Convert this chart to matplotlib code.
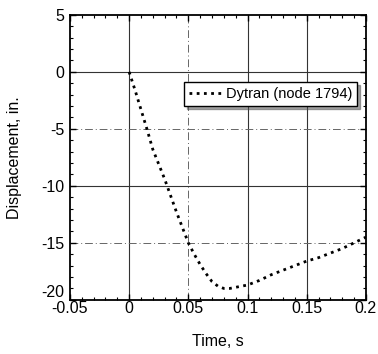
import matplotlib
matplotlib.use("Agg")
import matplotlib.pyplot as plt
from matplotlib.ticker import MultipleLocator

plt.rcParams['font.family'] = ['Liberation Sans', 'DejaVu Sans']

# Dytran response at node 1794
time_s = [0, 0.005, 0.01, 0.015, 0.02, 0.03, 0.04, 0.05, 0.055, 0.06, 0.065,
          0.07, 0.075, 0.08, 0.085, 0.09, 0.1, 0.11, 0.12, 0.13, 0.14, 0.15,
          0.16, 0.17, 0.18, 0.19, 0.2]
disp_in = [0, -1.6, -3.3, -5.0, -6.8, -9.4, -12.3, -15.0, -16.0, -16.9, -17.7,
           -18.4, -18.8, -19.0, -19.0, -18.9, -18.7, -18.3, -17.8, -17.4, -17.0,
           -16.6, -16.3, -15.9, -15.5, -15.0, -14.5]
series_label = "Dytran (node 1794)"

x_ticks = [-0.05, 0, 0.05, 0.1, 0.15, 0.2]
x_tick_labels = ["-0.05", "0", "0.05", "0.1", "0.15", "0.2"]
y_ticks = [-20, -15, -10, -5, 0, 5]
y_tick_labels = ["-20", "-15", "-10", "-5", "0", "5"]

fig = plt.figure(figsize=(3.78, 3.54), dpi=100)
ax = fig.add_axes([0.185, 0.153, 0.783, 0.805])

ax.set_xlim(-0.05, 0.2)
ax.set_ylim(-20, 5)

# grid: solid and dash-dot lines alternate
for xv in [0, 0.1, 0.15]:
    ax.axvline(xv, color="#333333", lw=0.8, zorder=1)
ax.axvline(0.05, color="#666666", lw=0.7, ls=(0, (8, 3, 1, 3)), zorder=1)
for yv in [0, -10]:
    ax.axhline(yv, color="#333333", lw=0.8, zorder=1)
for yv in [-5, -15]:
    ax.axhline(yv, color="#666666", lw=0.7, ls=(0, (8, 3, 1, 3)), zorder=1)

ax.plot(time_s, disp_in, color="black", lw=2.0, ls=(0, (1, 1.6)),
        label=series_label, zorder=3)

ax.set_xticks(x_ticks)
ax.set_xticklabels(x_tick_labels)
ax.set_yticks(y_ticks)
ax.set_yticklabels(y_tick_labels)
ax.xaxis.set_minor_locator(MultipleLocator(0.01))
ax.yaxis.set_minor_locator(MultipleLocator(1))
ax.tick_params(which="both", direction="in", top=True, right=True,
               labelsize=11.5)
ax.tick_params(axis="x", pad=1)
ax.tick_params(axis="y", pad=4)
ax.tick_params(which="major", length=4, width=1)
ax.tick_params(which="minor", length=2, width=0.8)

# lowest y label sits just above the corner
ax.get_yticklabels()[0].set_verticalalignment("bottom")

for sp in ax.spines.values():
    sp.set_linewidth(1.3)

ax.set_xlabel("Time, s", fontsize=11.5, labelpad=13)
ax.set_ylabel("Displacement, in.", fontsize=11.5, labelpad=14)

leg = ax.legend(loc="upper right", bbox_to_anchor=(0.97, 0.765), fontsize=10.5,
                frameon=True, fancybox=False, shadow=True, handlelength=2.2,
                handletextpad=0.3, borderpad=0.35, borderaxespad=0.0)
leg.get_frame().set_edgecolor("black")
leg.get_frame().set_linewidth(1.0)

fig.savefig("out.png", dpi=100)
